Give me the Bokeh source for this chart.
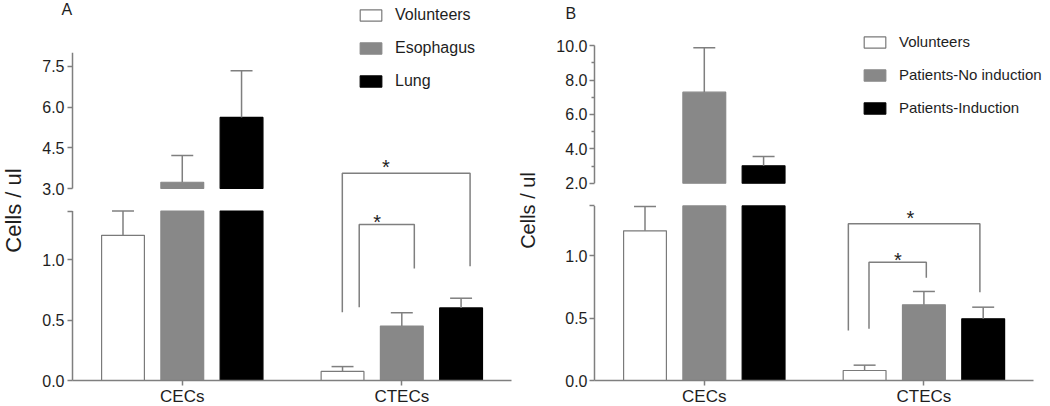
from bokeh.plotting import figure
from bokeh.models import FixedTicker, Legend, LegendItem, Range1d, ColumnDataSource
from bokeh.layouts import row
from bokeh.embed import file_html
from bokeh.resources import INLINE
from bokeh.core.properties import value

# ---------------- data ----------------
categories = ["CECs", "CTECs"]

a_series = ["Volunteers", "Esophagus", "Lung"]
a_volunteers = [1.20, 0.075]
a_volunteers_sem = [0.20, 0.04]
a_esophagus = [3.23, 0.45]
a_esophagus_sem = [0.99, 0.11]
a_lung = [5.62, 0.60]
a_lung_sem = [1.72, 0.08]

b_series = ["Volunteers", "Patients-No induction", "Patients-Induction"]
b_volunteers = [1.20, 0.08]
b_volunteers_sem = [0.195, 0.043]
b_no_induction = [7.29, 0.607]
b_no_induction_sem = [2.58, 0.107]
b_induction = [3.01, 0.495]
b_induction_sem = [0.54, 0.093]

a_lower_ticks = [0.0, 0.5, 1.0]
a_upper_ticks = [3.0, 4.5, 6.0, 7.5]
b_lower_ticks = [0.0, 0.5, 1.0]
b_upper_ticks = [2.0, 4.0, 6.0, 8.0, 10.0]
b_upper_minor = [3.0, 5.0, 7.0, 9.0]

# ---------------- styling / layout ----------------
FONT = "Liberation Sans"
GREY_LINE = "#7f7f7f"
TEXT = "#1e1e1e"
COLORS = [("white", "#7a7a7a"), ("#888888", "#888888"), ("#000000", "#000000")]
OFFSETS = [-0.27, 0.0, 0.27]
BAR_W = 0.195
CAP_W = 0.10
HEIGHT = 406
Y_BOTTOM = -26
Y_TOP = 380

panels = [
    dict(tag="A", series=a_series,
         means=[a_volunteers, a_esophagus, a_lung],
         sems=[a_volunteers_sem, a_esophagus_sem, a_lung_sem],
         lower_ticks=a_lower_ticks, upper_ticks=a_upper_ticks, upper_minor=[],
         lo_max=1.4, lo_scale=121.0, up_min=3.0, up_max=8.0, up_base=192.0, up_scale=27.13,
         width=517, x_start=-0.828, x_end=1.527,
         title_size="22px", title_standoff=13, tick_standoff=3,
         legend_loc=(357, 316), legend_font="16px", legend_spacing=15,
         tag_x=-0.55, tag_y=380,
         brackets=[(0.729, 1.311, 1.713, 0.565, 0.945), (0.806, 1.057, 1.29, 0.606, 0.926)],
         stars=[(0.928, 1.80), (0.888, 1.34)]),
    dict(tag="B", series=b_series,
         means=[b_volunteers, b_no_induction, b_induction],
         sems=[b_volunteers_sem, b_no_induction_sem, b_induction_sem],
         lower_ticks=b_lower_ticks, upper_ticks=b_upper_ticks, upper_minor=b_upper_minor,
         lo_max=1.4, lo_scale=124.7, up_min=2.0, up_max=10.0, up_base=197.3, up_scale=17.2,
         width=533, x_start=-0.8506, x_end=1.5765,
         title_size="20px", title_standoff=14, tick_standoff=2,
         legend_loc=(344, 290), legend_font="15px", legend_spacing=16,
         tag_x=-0.632, tag_y=376,
         brackets=[(0.656, 1.255, 1.257, 0.401, 0.708), (0.75, 1.011, 0.949, 0.415, 0.824)],
         stars=[(0.939, 1.339), (0.882, 1.002)]),
]


def make_panel(cfg):
    lo_max, lo_s = cfg["lo_max"], cfg["lo_scale"]
    up_min, up_max, up_b, up_s = cfg["up_min"], cfg["up_max"], cfg["up_base"], cfg["up_scale"]

    def tf(v):
        if v <= lo_max + 1e-9:
            return round(v * lo_s, 6)
        return round(up_b + (v - up_min) * up_s, 6)

    p = figure(width=cfg["width"], height=HEIGHT,
               x_range=Range1d(cfg["x_start"], cfg["x_end"]), y_range=Range1d(Y_BOTTOM, Y_TOP),
               output_backend="svg", toolbar_location=None, min_border=0)
    p.outline_line_color = None
    p.xgrid.visible = False
    p.ygrid.visible = False
    p.background_fill_color = "white"
    p.border_fill_color = "white"

    # ---- bars ----
    legend_items = []
    for k, (name, means, sems) in enumerate(zip(cfg["series"], cfg["means"], cfg["sems"])):
        fill, line = COLORS[k]
        xs = [i + OFFSETS[k] for i in range(len(categories))]
        low = ColumnDataSource(dict(x=xs, top=[tf(min(m, lo_max)) for m in means]))
        r = p.vbar(x="x", top="top", bottom=0, width=BAR_W, source=low,
                   fill_color=fill, line_color=line, line_width=1.2)
        legend_items.append(LegendItem(label=name, renderers=[r]))
        hi_x = [x for x, m in zip(xs, means) if m > lo_max]
        hi_top = [tf(m) for m in means if m > lo_max]
        if hi_x:
            p.vbar(x=hi_x, top=hi_top, bottom=tf(up_min), width=BAR_W,
                   fill_color=fill, line_color=line, line_width=1.2)
        # error bars (upper only)
        e_top = [tf(m + s) for m, s in zip(means, sems)]
        p.segment(x0=xs, y0=[tf(m) for m in means], x1=xs, y1=e_top,
                  line_color=GREY_LINE, line_width=1.5)
        p.segment(x0=[x - CAP_W / 2 for x in xs], y0=e_top,
                  x1=[x + CAP_W / 2 for x in xs], y1=e_top,
                  line_color=GREY_LINE, line_width=1.5)

    # ---- broken y axis line ----
    p.segment(x0=[-0.5, -0.5], y0=[0, tf(up_min)], x1=[-0.5, -0.5],
              y1=[tf(lo_max), tf(up_max)], line_color=GREY_LINE, line_width=1.5)

    # ---- significance brackets ----
    bxs, bys = [], []
    for xl, xr, yb, yl, yr in cfg["brackets"]:
        bxs.append([xl, xl, xr, xr])
        bys.append([yl * lo_s, yb * lo_s, yb * lo_s, yr * lo_s])
    p.multi_line(xs=bxs, ys=bys, line_color=GREY_LINE, line_width=1.5)
    p.text(x=[s[0] for s in cfg["stars"]], y=[s[1] * lo_s for s in cfg["stars"]],
           text=["*"] * len(cfg["stars"]), text_align="center", text_baseline="middle",
           y_offset=4, text_font=value(FONT), text_font_size="20px", text_color=TEXT)

    # ---- panel letter ----
    p.text(x=[cfg["tag_x"]], y=[cfg["tag_y"]], text=[cfg["tag"]], text_align="left",
           text_baseline="top", text_font=value(FONT), text_font_size="16px", text_color=TEXT)

    # ---- y axis (pinned at the left edge of the bar area) ----
    ya = p.yaxis[0]
    ya.fixed_location = -0.5
    ya.bounds = (0, 340)
    ticks = [tf(t) for t in cfg["lower_ticks"]] + [tf(lo_max)] + [tf(t) for t in cfg["upper_ticks"]]
    ya.ticker = FixedTicker(ticks=ticks, minor_ticks=[tf(t) for t in cfg["upper_minor"]])
    overrides = {tf(t): f"{t:.1f}" for t in cfg["lower_ticks"] + cfg["upper_ticks"]}
    overrides[tf(lo_max)] = ""
    ya.major_label_overrides = overrides
    ya.axis_line_color = None
    ya.major_tick_line_color = GREY_LINE
    ya.major_tick_line_width = 1.5
    ya.major_tick_out = 5
    ya.major_tick_in = 0
    ya.minor_tick_line_color = GREY_LINE
    ya.minor_tick_line_width = 1.5
    ya.minor_tick_out = 3
    ya.minor_tick_in = 0
    ya.major_label_standoff = cfg["tick_standoff"]
    ya.major_label_text_font = FONT
    ya.major_label_text_font_size = "16px"
    ya.major_label_text_color = TEXT
    ya.axis_label = "Cells / ul"
    ya.axis_label_text_font = FONT
    ya.axis_label_text_font_size = cfg["title_size"]
    ya.axis_label_text_font_style = "normal"
    ya.axis_label_text_color = TEXT
    ya.axis_label_standoff = cfg["title_standoff"]

    # ---- x axis (pinned at value 0) ----
    xa = p.xaxis[0]
    xa.fixed_location = 0
    xa.ticker = FixedTicker(ticks=list(range(len(categories))))
    xa.major_label_overrides = {i: c for i, c in enumerate(categories)}
    xa.bounds = (-0.5, 1.5)
    xa.axis_line_color = GREY_LINE
    xa.axis_line_width = 1.5
    xa.major_tick_line_color = GREY_LINE
    xa.major_tick_line_width = 1.5
    xa.major_tick_out = 5
    xa.major_tick_in = 0
    xa.minor_tick_line_color = None
    xa.major_label_standoff = 1
    xa.major_label_text_font = FONT
    xa.major_label_text_font_size = "17px"
    xa.major_label_text_color = TEXT

    # ---- legend ----
    leg = Legend(items=legend_items, location=cfg["legend_loc"], orientation="vertical",
                 glyph_width=27, glyph_height=14, label_standoff=11,
                 spacing=cfg["legend_spacing"],
                 padding=0, margin=0, border_line_color=None, background_fill_alpha=0,
                 label_text_font=FONT, label_text_font_size=cfg["legend_font"],
                 label_text_color=TEXT)
    p.add_layout(leg)
    return p


plots = [make_panel(c) for c in panels]
layout = row(*plots, spacing=0)
open("out.html", "w").write(file_html(layout, INLINE))
